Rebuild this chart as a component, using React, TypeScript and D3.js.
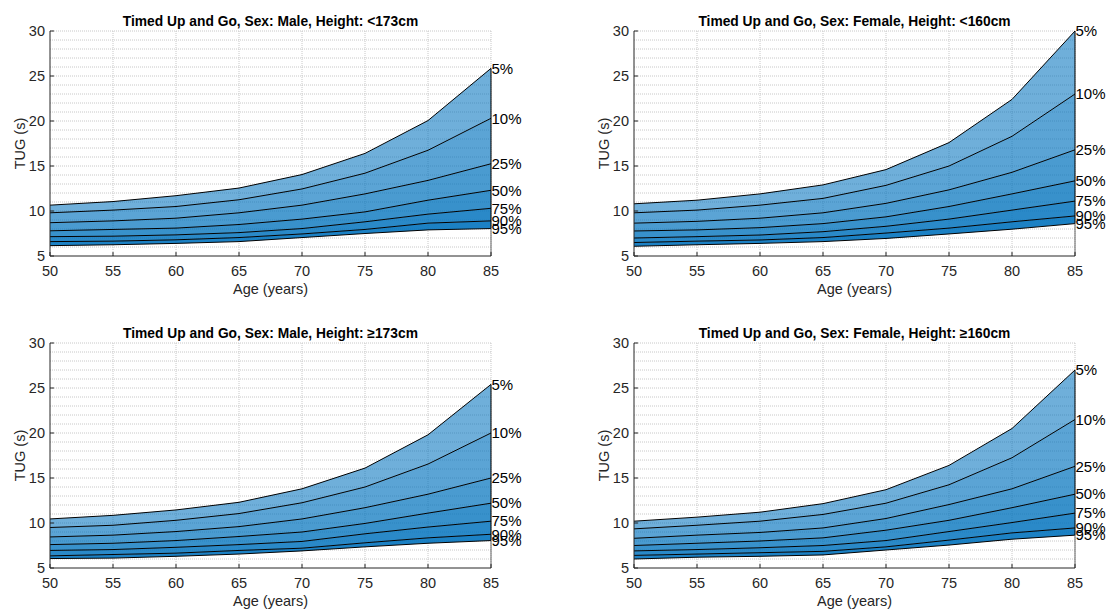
import React from "react";
import * as d3 from "d3";

const ages = [50, 55, 60, 65, 70, 75, 80, 85];
const percentileLabels = ["5%", "10%", "25%", "50%", "75%", "90%", "95%"];
const xTicks = [50, 55, 60, 65, 70, 75, 80, 85];
const yTicks = [5, 10, 15, 20, 25, 30];

// rows: 5%, 10%, 25%, 50%, 75%, 90%, 95%
const maleShort = [
  [10.65, 11.05, 11.7, 12.55, 14.05, 16.4, 20.05, 25.85],
  [9.8, 10.1, 10.5, 11.25, 12.45, 14.2, 16.75, 20.3],
  [8.7, 8.9, 9.2, 9.8, 10.65, 11.9, 13.4, 15.25],
  [7.8, 7.95, 8.1, 8.5, 9.1, 9.9, 11.2, 12.3],
  [7.15, 7.2, 7.35, 7.6, 8.05, 8.8, 9.65, 10.3],
  [6.6, 6.65, 6.8, 7.05, 7.45, 7.95, 8.65, 8.9],
  [6.15, 6.25, 6.4, 6.6, 7.05, 7.5, 7.9, 8.05],
];
const femaleShort = [
  [10.8, 11.2, 11.9, 12.9, 14.6, 17.6, 22.4, 30.0],
  [9.8, 10.1, 10.65, 11.4, 12.85, 15.0, 18.3, 23.0],
  [8.65, 8.85, 9.2, 9.8, 10.85, 12.35, 14.3, 16.8],
  [7.78, 7.9, 8.15, 8.6, 9.35, 10.5, 11.9, 13.35],
  [7.0, 7.15, 7.33, 7.7, 8.3, 9.1, 10.1, 11.1],
  [6.5, 6.65, 6.78, 7.05, 7.55, 8.1, 8.8, 9.45],
  [6.08, 6.25, 6.4, 6.6, 6.95, 7.45, 7.98, 8.6],
];
const maleTall = [
  [10.45, 10.85, 11.45, 12.3, 13.8, 16.1, 19.8, 25.4],
  [9.5, 9.75, 10.3, 11.05, 12.25, 14.0, 16.55, 20.0],
  [8.45, 8.65, 9.05, 9.6, 10.45, 11.7, 13.2, 15.0],
  [7.6, 7.75, 8.05, 8.5, 9.0, 9.95, 11.1, 12.2],
  [6.95, 7.05, 7.3, 7.6, 7.95, 8.8, 9.55, 10.2],
  [6.35, 6.5, 6.65, 6.95, 7.2, 7.8, 8.35, 8.75],
  [6.05, 6.1, 6.3, 6.55, 6.9, 7.35, 7.75, 8.05],
];
const femaleTall = [
  [10.2, 10.65, 11.2, 12.15, 13.7, 16.4, 20.5, 27.0],
  [9.35, 9.75, 10.2, 10.95, 12.2, 14.25, 17.25, 21.5],
  [8.3, 8.65, 8.95, 9.45, 10.5, 12.05, 13.8, 16.3],
  [7.5, 7.75, 8.0, 8.35, 9.2, 10.3, 11.7, 13.2],
  [6.9, 7.05, 7.25, 7.5, 8.05, 9.05, 10.05, 11.1],
  [6.4, 6.55, 6.7, 6.85, 7.35, 8.1, 8.9, 9.45],
  [6.0, 6.2, 6.3, 6.45, 7.0, 7.55, 8.2, 8.65],
];

const titles = [
  "Timed Up and Go, Sex: Male, Height: <173cm",
  "Timed Up and Go, Sex: Female, Height: <160cm",
  "Timed Up and Go, Sex: Male, Height: \u2265173cm",
  "Timed Up and Go, Sex: Female, Height: \u2265160cm",
];

const bandOpacity = [0.565, 0.645, 0.71, 0.78, 0.835, 0.89];
const FONT = "'Liberation Sans', Arial, Helvetica, sans-serif";
const AX = "#262626";

function Panel({ left, top, title, data }: { left: number; top: number; title: string; data: number[][] }) {
  const W = 441;
  const H = 225;
  const x = d3.scaleLinear().domain([50, 85]).range([left, left + W]);
  const y = d3.scaleLinear().domain([5, 30]).range([top + H, top]);
  const line = d3
    .line<number>()
    .x((_, i) => x(ages[i]))
    .y((v) => y(v));
  const minor = d3.range(6, 31);
  const bands = data.slice(0, -1).map((upper, k) => {
    const lower = data[k + 1];
    const a = d3
      .area<number>()
      .x((_, i) => x(ages[i]))
      .y0((_, i) => y(lower[i]))
      .y1((_, i) => y(upper[i]));
    return a(ages) as string;
  });
  const last = data.length - 1;
  const xEnd = x(85);
  return (
    <g>
      {minor.map((v) => (
        <line key={"h" + v} x1={left} x2={left + W} y1={y(v)} y2={y(v)} stroke="#c8c8c8" strokeWidth={1} strokeDasharray="1,1" />
      ))}
      {xTicks.slice(1).map((t) => (
        <line key={"v" + t} x1={x(t)} x2={x(t)} y1={top} y2={top + H} stroke="#c8c8c8" strokeWidth={1} strokeDasharray="1,1" />
      ))}
      {bands.map((d, k) => (
        <path key={"b" + k} d={d} fill="#0072BD" fillOpacity={bandOpacity[k]} stroke="none" />
      ))}
      {data.map((row, k) => (
        <path key={"l" + k} d={line(row) as string} fill="none" stroke="#000" strokeWidth={1} />
      ))}
      <line x1={xEnd} x2={xEnd} y1={y(data[0][7])} y2={y(data[last][7])} stroke="#000" strokeWidth={1} />
      <line x1={xEnd} x2={xEnd} y1={y(data[last][7])} y2={top + H} stroke="#666" strokeWidth={1} />
      <line x1={left} x2={left} y1={top} y2={top + H} stroke={AX} strokeWidth={1} />
      <line x1={left} x2={left + W} y1={top + H} y2={top + H} stroke={AX} strokeWidth={1} />
      {yTicks.map((t) => (
        <g key={"yt" + t}>
          <line x1={left} x2={left + 4} y1={y(t)} y2={y(t)} stroke={AX} />
          <text x={left - 5} y={y(t)} dy="0.35em" textAnchor="end" fontSize={14.5} fill={AX} fontFamily={FONT}>
            {t}
          </text>
        </g>
      ))}
      {xTicks.map((t) => (
        <g key={"xt" + t}>
          <line x1={x(t)} x2={x(t)} y1={top + H} y2={top + H - 4} stroke={AX} />
          <text x={x(t)} y={top + H + 20} textAnchor="middle" fontSize={14.5} fill={AX} fontFamily={FONT}>
            {t}
          </text>
        </g>
      ))}
      {data.map((row, k) => (
        <text key={"p" + k} x={xEnd + 0.5} y={y(row[7])} dy="0.35em" fontSize={15} fill="#000" fontFamily={FONT}>
          {percentileLabels[k]}
        </text>
      ))}
      <text x={left + W / 2} y={top - 5} textAnchor="middle" fontSize={13.8} fontWeight="bold" fill="#000" fontFamily={FONT}>
        {title}
      </text>
      <text x={left + W / 2} y={top + H + 38} textAnchor="middle" fontSize={14.5} fill={AX} fontFamily={FONT}>
        Age (years)
      </text>
      <text
        transform={`translate(${left - 25},${top + H / 2}) rotate(-90)`}
        textAnchor="middle"
        fontSize={14.5}
        fill={AX}
        fontFamily={FONT}
      >
        TUG (s)
      </text>
    </g>
  );
}

export default function App() {
  return (
    <svg width={1109} height={610} style={{ position: "absolute", left: 0, top: 0, background: "#fff" }}>
      <rect width={1109} height={610} fill="#fff" />
      <Panel left={50} top={31} title={titles[0]} data={maleShort} />
      <Panel left={634} top={31} title={titles[1]} data={femaleShort} />
      <Panel left={50} top={343} title={titles[2]} data={maleTall} />
      <Panel left={634} top={343} title={titles[3]} data={femaleTall} />
    </svg>
  );
}
